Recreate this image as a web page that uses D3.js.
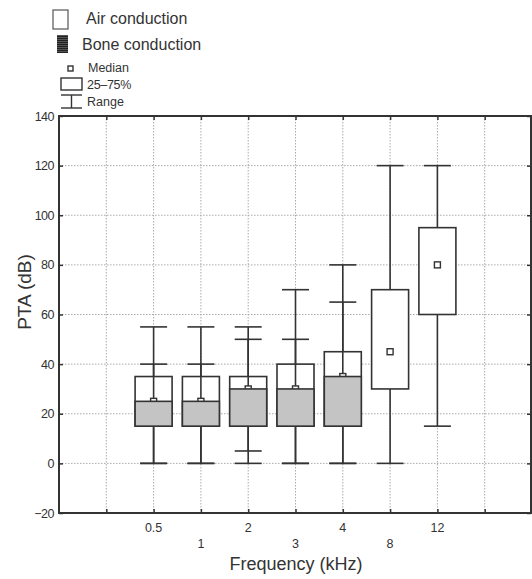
<!DOCTYPE html>
<html><head><meta charset="utf-8">
<script src="https://cdn.jsdelivr.net/npm/d3@7"></script>
<style>body{margin:0;background:#fff}svg{display:block;font-family:Arial,"Liberation Sans",sans-serif}</style>
</head><body><svg id="c" width="532" height="579"></svg>
<script>
const categories = ["0.5","1","2","3","4","8","12"];
const airMin  = [0,0,0,0,0,0,15];
const airQ1   = [15,15,15,15,15,30,60];
const airMed  = [25,25,30,30,35,45,80];
const airQ3   = [35,35,35,40,45,70,95];
const airMax  = [55,55,55,70,80,120,120];
const boneMin = [0,0,5,0,0,null,null];
const boneQ1  = [15,15,15,15,15,null,null];
const boneQ3  = [25,25,30,30,35,null,null];
const boneMax = [40,40,50,50,65,null,null];
const yTicks = [-20,0,20,40,60,80,100,120,140];

const svg = d3.select("#c");
const L=59, R=531, T=116, B=513;
const x = d3.scaleLinear().domain([0,10]).range([59,532]);
const y = d3.scaleLinear().domain([-20,140]).range([B,T]);
const pos = i => x(i+2);
const ink = "#333";

// grid
const gx = [1,2,3,4,5,6,7,8,9];
svg.append("g").selectAll("line").data(gx).join("line")
  .attr("x1",d=>x(d)).attr("x2",d=>x(d)).attr("y1",T).attr("y2",B)
  .attr("stroke","#aaa").attr("stroke-width",1).attr("stroke-dasharray","1.5,1.5");
svg.append("g").selectAll("line").data(yTicks.slice(1,-1)).join("line")
  .attr("x1",L).attr("x2",R).attr("y1",d=>y(d)).attr("y2",d=>y(d))
  .attr("stroke","#aaa").attr("stroke-width",1).attr("stroke-dasharray","1.5,1.5");

// axes (inward ticks)
const axL = svg.append("g").attr("transform",`translate(${L},0)`)
  .call(d3.axisRight(y).tickValues(yTicks).tickSize(4).tickFormat(""));
const axR = svg.append("g").attr("transform",`translate(${R},0)`)
  .call(d3.axisLeft(y).tickValues(yTicks).tickSize(4).tickFormat(""));
const axB = svg.append("g").attr("transform",`translate(0,${B})`)
  .call(d3.axisTop(x).tickValues(gx).tickSize(4).tickFormat(""));
const axT = svg.append("g").attr("transform",`translate(0,${T})`)
  .call(d3.axisBottom(x).tickValues(gx).tickSize(4).tickFormat(""));
[axL,axR,axB,axT].forEach(a=>{a.selectAll(".domain").remove();a.selectAll("line").attr("stroke",ink).attr("stroke-width",1.5);});
svg.append("rect").attr("x",L).attr("y",T).attr("width",R-L).attr("height",B-T)
  .attr("fill","none").attr("stroke",ink).attr("stroke-width",2);

// y tick labels
svg.append("g").selectAll("text").data(yTicks).join("text")
  .attr("x",L-5).attr("y",d=>y(d)+4.5).attr("text-anchor","end")
  .attr("font-size",12.5).attr("fill",ink).attr("letter-spacing","-0.5")
  .text(d=>d<0?"\u2212"+Math.abs(d):d);
// x tick labels staggered
svg.append("g").selectAll("text").data(categories).join("text")
  .attr("x",(d,i)=>pos(i)).attr("y",(d,i)=>i%2===0?532:548).attr("text-anchor","middle")
  .attr("font-size",12.5).attr("fill",ink).text(d=>d);

svg.append("text").attr("x",296).attr("y",570).attr("text-anchor","middle")
  .attr("font-size",18).attr("fill",ink).text("Frequency (kHz)");
svg.append("text").attr("transform","translate(31,292) rotate(-90)").attr("text-anchor","middle")
  .attr("font-size",19).attr("fill",ink).text("PTA (dB)");

// boxes
const bw=37, cw=27;
const g = svg.append("g").attr("stroke",ink).attr("stroke-width",1.6);
categories.forEach((c,i)=>{
  const cx=pos(i);
  g.append("line").attr("x1",cx).attr("x2",cx).attr("y1",y(airMin[i])).attr("y2",y(airMax[i]));
  [airMin[i],airMax[i]].forEach(v=>g.append("line").attr("x1",cx-cw/2).attr("x2",cx+cw/2).attr("y1",y(v)).attr("y2",y(v)));
  g.append("rect").attr("x",cx-bw/2).attr("width",bw).attr("y",y(airQ3[i])).attr("height",y(airQ1[i])-y(airQ3[i])).attr("fill","#fff");
  if(boneMax[i]!==null){
    g.append("line").attr("x1",cx).attr("x2",cx).attr("y1",y(boneMin[i])).attr("y2",y(boneMax[i]));
    [boneMin[i],boneMax[i]].forEach(v=>g.append("line").attr("x1",cx-cw/2).attr("x2",cx+cw/2).attr("y1",y(v)).attr("y2",y(v)));
  }
  g.append("rect").attr("x",cx-3).attr("y",y(airMed[i])-3).attr("width",6).attr("height",6).attr("fill","#fff").attr("stroke-width",1.4);
  if(boneMax[i]!==null){
    g.append("rect").attr("x",cx-bw/2).attr("width",bw).attr("y",y(boneQ3[i])).attr("height",y(boneQ1[i])-y(boneQ3[i])).attr("fill","#c4c4c4");
  }
});

// legend
const lg = svg.append("g").attr("fill",ink);
lg.append("rect").attr("x",53).attr("y",10).attr("width",15).attr("height",19).attr("fill","#fff").attr("stroke","#555").attr("stroke-width",1.2);
lg.append("text").attr("x",86).attr("y",24).attr("font-size",16).text("Air conduction");
const defs = svg.append("defs");
const pat = defs.append("pattern").attr("id","hatch").attr("width",4).attr("height",2).attr("patternUnits","userSpaceOnUse");
pat.append("rect").attr("width",4).attr("height",2).attr("fill","#555");
pat.append("rect").attr("width",4).attr("height",1).attr("fill","#222");
lg.append("rect").attr("x",57).attr("y",35).attr("width",11).attr("height",18).attr("fill","url(#hatch)");
lg.append("text").attr("x",82).attr("y",50).attr("font-size",16).text("Bone conduction");
lg.append("rect").attr("x",68).attr("y",66).attr("width",5).attr("height",5).attr("fill","#fff").attr("stroke",ink).attr("stroke-width",1.4);
lg.append("text").attr("x",88).attr("y",72).attr("font-size",12.5).text("Median");
lg.append("rect").attr("x",61).attr("y",78).attr("width",21).attr("height",12).attr("fill","#fff").attr("stroke",ink).attr("stroke-width",1.4);
lg.append("text").attr("x",87).attr("y",89).attr("font-size",12.5).attr("letter-spacing","-0.3").text("25\u201375%");
const rg = lg.append("g").attr("stroke",ink).attr("stroke-width",1.4);
rg.append("line").attr("x1",61).attr("x2",82).attr("y1",95).attr("y2",95);
rg.append("line").attr("x1",61).attr("x2",82).attr("y1",108).attr("y2",108);
rg.append("line").attr("x1",71.5).attr("x2",71.5).attr("y1",95).attr("y2",108);
lg.append("text").attr("x",87).attr("y",106).attr("font-size",12.5).text("Range");
</script></body></html>
